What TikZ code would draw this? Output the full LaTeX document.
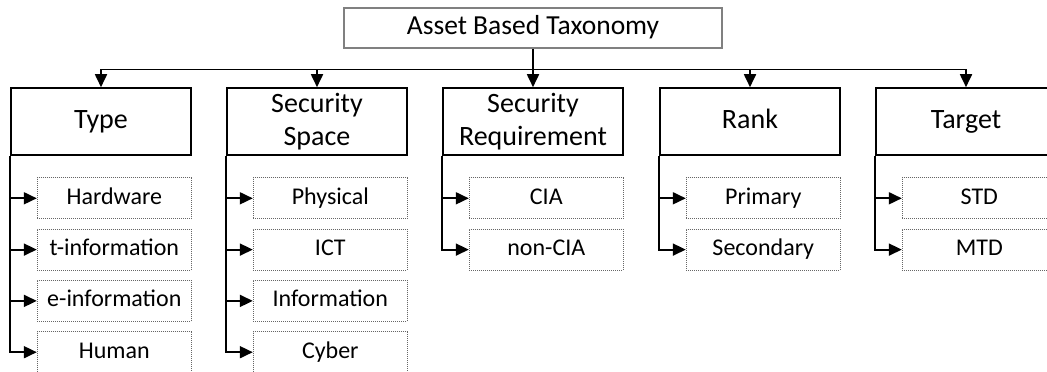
\documentclass[tikz,border=0pt]{standalone}
\usepackage{fontspec}
\setmainfont{Carlito}
\usetikzlibrary{arrows.meta}
\begin{document}
\begin{tikzpicture}[x=1pt,y=-1pt,
  rootbox/.style={draw=black!50, line width=1.6pt, minimum width=378pt, minimum height=40pt,
    inner sep=0pt, text height=19pt, text depth=6pt, font=\fontsize{27.5}{32}\selectfont},
  catbox/.style={draw, line width=1.6pt, minimum width=180pt, minimum height=67pt,
    align=center, inner sep=0pt, font=\fontsize{28}{33}\selectfont},
  onecat/.style={catbox, text height=19pt, text depth=6pt},
  leafbox/.style={draw=black!60, line width=1pt, dash pattern=on 1pt off 1pt,
    minimum width=154pt, minimum height=41pt, inner sep=0pt,
    text height=17pt, text depth=5pt, font=\fontsize{24}{28}\selectfont},
  wire/.style={line width=1.8pt},
  conn/.style={wire, -{Triangle[length=13pt,width=12pt]}}
]
\useasboundingbox (0,0) rectangle (1047,372);

% root of the taxonomy
\node[rootbox] (root) at (533,28) {Asset Based Taxonomy};
\coordinate (bus) at (533,69.5);

% category headers
\node[onecat] (type) at (101,121.5) {Type};
\node[catbox] (space) at (317,121.5) {Security\\Space};
\node[catbox] (req) at (533,121.5) {Security\\Requirement};
\node[onecat] (rank) at (750,121.5) {Rank};
\node[onecat] (target) at (966,121.5) {Target};

% distribution bus from the root to every category
\draw[wire] (root.south) -- (bus);
\draw[conn] (bus) -| (type.north);
\draw[conn] (bus) -| (space.north);
\draw[conn] (bus) -- (req.north);
\draw[conn] (bus) -| (rank.north);
\draw[conn] (bus) -| (target.north);

% leaves: category / node name / row / text
\foreach \cat/\name/\row/\txt in {
  type/hw/0/Hardware, type/tinfo/1/t-information, type/einfo/2/e-information, type/human/3/Human,
  space/phys/0/Physical, space/ict/1/ICT, space/info/2/Information, space/cyber/3/Cyber,
  req/cia/0/CIA, req/ncia/1/non-CIA,
  rank/prim/0/Primary, rank/sec/1/Secondary,
  target/std/0/STD, target/mtd/1/MTD}{
  \node[leafbox, anchor=east] (\name) at ([yshift=-\row*51.3-42.5] \cat.south east) {\txt};
  \draw[conn] (\cat.south west) |- (\name.west);
}
\end{tikzpicture}
\end{document}
